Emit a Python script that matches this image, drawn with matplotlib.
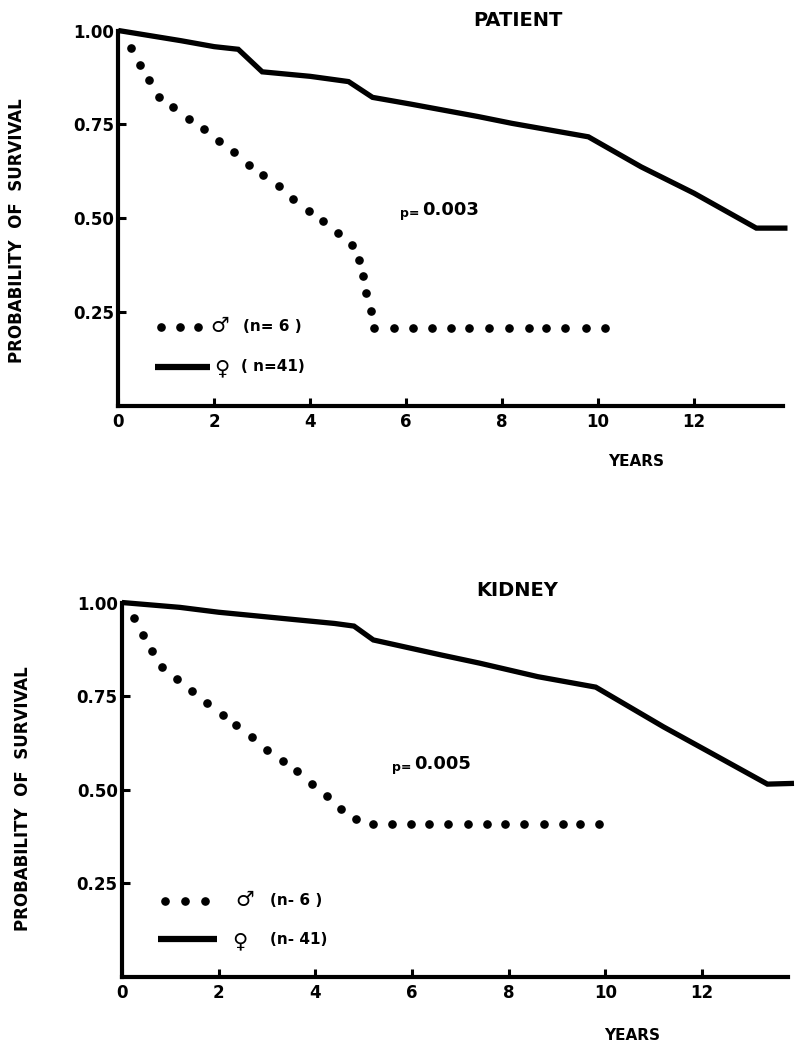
import matplotlib
matplotlib.use("Agg")
import matplotlib.pyplot as plt

plt.rcParams['font.family'] = ['DejaVu Sans']

# ---------------- data ----------------
# Top panel: PATIENT survival
pat_male_t = [0.26, 0.46, 0.65, 0.84, 1.15, 1.48, 1.78, 2.09, 2.41, 2.73, 3.02, 3.36,
              3.65, 3.97, 4.27, 4.59, 4.88, 5.02, 5.10, 5.16, 5.26, 5.34,
              5.74, 6.14, 6.54, 6.94, 7.32, 7.72, 8.14, 8.56, 8.92, 9.32, 9.74, 10.14]
pat_male_v = [0.953, 0.908, 0.868, 0.824, 0.796, 0.764, 0.739, 0.706, 0.676, 0.643, 0.616, 0.585,
              0.552, 0.520, 0.493, 0.461, 0.428, 0.388, 0.347, 0.302, 0.253, 0.207,
              0.207, 0.207, 0.207, 0.207, 0.207, 0.207, 0.207, 0.207, 0.207, 0.207, 0.207, 0.207]
pat_female_t = [0.0, 1.3, 2.0, 2.5, 3.0, 4.0, 4.8, 5.3, 6.1, 7.5, 8.2, 9.8, 10.9, 12.0, 13.3, 13.95]
pat_female_v = [1.0, 0.973, 0.957, 0.950, 0.890, 0.878, 0.864, 0.822, 0.804, 0.771, 0.753,
                0.717, 0.637, 0.567, 0.474, 0.474]

# Bottom panel: KIDNEY survival
kid_male_t = [0.24, 0.43, 0.62, 0.82, 1.13, 1.44, 1.77, 2.09, 2.37, 2.70, 3.01, 3.33,
              3.62, 3.93, 4.24, 4.54, 4.84, 5.19,
              5.58, 5.97, 6.35, 6.75, 7.15, 7.56, 7.93, 8.32, 8.72, 9.12, 9.48, 9.87]
kid_male_v = [0.959, 0.914, 0.871, 0.827, 0.796, 0.764, 0.731, 0.699, 0.672, 0.640, 0.607, 0.576,
              0.549, 0.516, 0.482, 0.449, 0.423, 0.409,
              0.408, 0.408, 0.408, 0.408, 0.408, 0.408, 0.408, 0.408, 0.408, 0.408, 0.408, 0.408]
kid_female_t = [0.0, 1.2, 2.0, 4.4, 4.8, 5.2, 6.6, 7.4, 8.6, 9.8, 11.2, 12.2, 13.35, 13.9]
kid_female_v = [1.0, 0.987, 0.974, 0.944, 0.937, 0.900, 0.860, 0.838, 0.802, 0.774, 0.668,
                0.597, 0.515, 0.517]

x_ticks = [0, 2, 4, 6, 8, 10, 12]
y_ticks = [0.25, 0.50, 0.75, 1.00]
y_ticklabels = ["0.25", "0.50", "0.75", "1.00"]

titles = ["PATIENT", "KIDNEY"]
pvals = ["0.003", "0.005"]
male_labels = ["(n= 6 )", "(n- 6 )"]
female_labels = ["( n=41)", "(n- 41)"]

# ---------------- figure ----------------
W, H = 795, 1045
fig = plt.figure(figsize=(W / 100, H / 100), dpi=100)


def px_axes(left, top, right, bottom):
    return fig.add_axes([left / W, 1 - bottom / H, (right - left) / W, (bottom - top) / H])


panels = [
    dict(box=(118.3, 30.5, 782.7, 406.2), xmax=13.85,
         mt=pat_male_t, mv=pat_male_v, ft=pat_female_t, fv=pat_female_v),
    dict(box=(121.9, 602.5, 788.2, 977.0), xmax=13.78,
         mt=kid_male_t, mv=kid_male_v, ft=kid_female_t, fv=kid_female_v),
]

title_pos = [(518, 20), (517, 590)]
p_pos = [(400, 212), (392, 766)]
ylab_pos = [(17, 231), (23, 799)]
xlab_pos = [(636, 462), (632, 1035)]
legends = [dict(dots=[160.7, 180, 198], dy=326.7, msym=220, mtx=243, ly=366.7,
                lx=(155, 210), fsym=222, ftx=241),
           dict(dots=[165, 185, 205], dy=900.5, msym=245, mtx=270, ly=939.3,
                lx=(158, 217), fsym=240, ftx=270)]

for i, p in enumerate(panels):
    ax = px_axes(*p['box'])
    ax.set_xlim(0, p['xmax'])
    ax.set_ylim(0, 1.0)
    for s in ['top', 'right']:
        ax.spines[s].set_visible(False)
    for s in ['left', 'bottom']:
        ax.spines[s].set_linewidth(3.0)
        ax.spines[s].set_capstyle('projecting')
    ax.plot(p['ft'], p['fv'], color='black', lw=3.8, solid_joinstyle='miter',
            solid_capstyle='butt', clip_on=False)
    ax.plot(p['mt'], p['mv'], linestyle='none', marker='o', ms=5.2, color='black',
            clip_on=False)
    ax.set_xticks(x_ticks)
    ax.set_xticklabels([str(t) for t in x_ticks], fontsize=12, fontweight='bold')
    ax.set_yticks(y_ticks)
    ax.set_yticklabels(y_ticklabels, fontsize=12, fontweight='bold')
    ax.tick_params(axis='both', direction='in', length=6, width=2.2, pad=5)
    ax.tick_params(axis='y', pad=3)

    # title
    tp = title_pos[i]
    fig.text(tp[0] / W, 1 - tp[1] / H, titles[i], ha='center', va='center',
             fontsize=14, fontweight='bold')
    # p-value
    pt = p_pos[i]
    fig.text(pt[0] / W, 1 - (pt[1] + 1) / H, "p=", fontsize=9, fontweight='bold',
             ha='left', va='center')
    fig.text((pt[0] + 22) / W, 1 - (pt[1] - 2) / H, pvals[i], fontsize=13,
             fontweight='bold', ha='left', va='center')

    # legend (hand drawn like in the original)
    lg = legends[i]
    fig.lines.append(plt.Line2D([x / W for x in lg['dots']], [1 - lg['dy'] / H] * 3,
                                linestyle='none', marker='o', ms=5.2, color='black',
                                transform=fig.transFigure))
    fig.lines.append(plt.Line2D([lg['lx'][0] / W, lg['lx'][1] / W], [1 - lg['ly'] / H] * 2,
                                lw=4.5, color='black', solid_capstyle='butt',
                                transform=fig.transFigure))
    fig.text(lg['msym'] / W, 1 - (lg['dy'] - 1) / H, "\u2642", fontsize=15,
             fontweight='bold', ha='center', va='center')
    fig.text(lg['mtx'] / W, 1 - lg['dy'] / H, male_labels[i], fontsize=11,
             fontweight='bold', ha='left', va='center')
    fig.text(lg['fsym'] / W, 1 - (lg['ly'] + 2) / H, "\u2640", fontsize=15,
             fontweight='bold', ha='center', va='center')
    fig.text(lg['ftx'] / W, 1 - lg['ly'] / H, female_labels[i], fontsize=11,
             fontweight='bold', ha='left', va='center')

    # axis labels
    yl = ylab_pos[i]
    fig.text(yl[0] / W, 1 - yl[1] / H, "PROBABILITY  OF  SURVIVAL", rotation=90,
             fontsize=12, fontweight='bold', ha='center', va='center')
    xl = xlab_pos[i]
    fig.text(xl[0] / W, 1 - xl[1] / H, "YEARS", fontsize=11, fontweight='bold',
             ha='center', va='center')

fig.savefig("out.png", dpi=100)
